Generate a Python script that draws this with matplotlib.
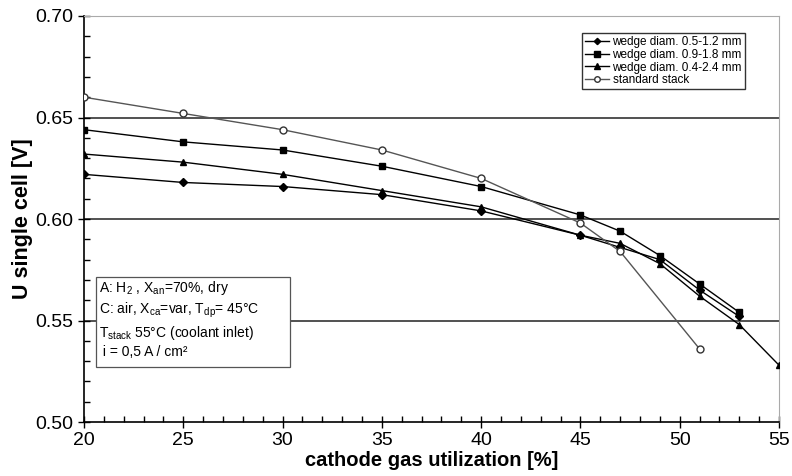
import matplotlib
matplotlib.use("Agg")
import matplotlib.pyplot as plt
from matplotlib.ticker import MultipleLocator
from matplotlib.patches import Rectangle

plt.rcParams['font.family'] = ['Liberation Sans', 'DejaVu Sans']
plt.rcParams['mathtext.default'] = 'regular'

x_diamond = [20, 25, 30, 35, 40, 45, 47, 49, 51, 53]
y_diamond = [0.622, 0.618, 0.616, 0.612, 0.604, 0.592, 0.586, 0.580, 0.565, 0.552]
x_square = [20, 25, 30, 35, 40, 45, 47, 49, 51, 53]
y_square = [0.644, 0.638, 0.634, 0.626, 0.616, 0.602, 0.594, 0.582, 0.568, 0.554]
x_triangle = [20, 25, 30, 35, 40, 45, 47, 49, 51, 53, 55]
y_triangle = [0.632, 0.628, 0.622, 0.614, 0.606, 0.592, 0.588, 0.578, 0.562, 0.548, 0.528]
x_standard = [20, 25, 30, 35, 40, 45, 47, 51]
y_standard = [0.660, 0.652, 0.644, 0.634, 0.620, 0.598, 0.584, 0.536]

labels = ["wedge diam. 0.5-1.2 mm", "wedge diam. 0.9-1.8 mm",
          "wedge diam. 0.4-2.4 mm", "standard stack"]

fig = plt.figure(figsize=(7.92, 4.76), dpi=100)
ax = fig.add_axes([0.106, 0.1134, 0.8776, 0.853])

for yv in [0.55, 0.60, 0.65]:
    ax.axhline(yv, color='#333333', lw=1.2, zorder=1)

ax.plot(x_diamond, y_diamond, '-', color='black', lw=1.0, marker='D', ms=4, label=labels[0], zorder=3)
ax.plot(x_square, y_square, '-', color='black', lw=1.0, marker='s', ms=5, label=labels[1], zorder=3)
ax.plot(x_triangle, y_triangle, '-', color='black', lw=1.0, marker='^', ms=5, label=labels[2], zorder=3)
ax.plot(x_standard, y_standard, '-', color='#555555', lw=1.0, marker='o', ms=5,
        mfc='white', mec='#333333', label=labels[3], zorder=3)

ax.set_xlim(20, 55)
ax.set_ylim(0.50, 0.70)
ax.xaxis.set_major_locator(MultipleLocator(5))
ax.xaxis.set_minor_locator(MultipleLocator(1))
ax.yaxis.set_major_locator(MultipleLocator(0.05))
ax.yaxis.set_minor_locator(MultipleLocator(0.01))
ax.yaxis.set_major_formatter(matplotlib.ticker.FormatStrFormatter('%.2f'))
ax.tick_params(axis='both', which='major', direction='inout', length=8, labelsize=14, width=1)
ax.tick_params(axis='both', which='minor', direction='in', length=4, width=1)

for s in ['top', 'right']:
    ax.spines[s].set_color('#aaaaaa')
for s in ['left', 'bottom']:
    ax.spines[s].set_color('black')
    ax.spines[s].set_linewidth(1.2)

ax.set_xlabel('cathode gas utilization [%]', fontsize=14.5, fontweight='bold', labelpad=1)
ax.set_ylabel('U single cell [V]', fontsize=15.5, fontweight='bold', labelpad=2)

leg = ax.legend(loc='upper right', bbox_to_anchor=(0.951, 0.957), borderaxespad=0,
                fontsize=8.5, frameon=True, fancybox=False, edgecolor='black',
                handlelength=2.0, borderpad=0.25, labelspacing=0.05,
                handletextpad=0.3, markerscale=0.8)
leg.get_frame().set_linewidth(1.0)

ax.add_patch(Rectangle((0.017, 0.135), 0.279, 0.222, transform=ax.transAxes,
                       fc='white', ec='#555555', lw=0.9, zorder=5))
txt = ("A: H$_2$ , X$_{an}$=70%, dry\n"
       "C: air, X$_{ca}$=var, T$_{dp}$= 45°C\n"
       "T$_{stack}$ 55°C (coolant inlet)\n"
       " i = 0,5 A / cm²")
ax.text(0.022, 0.352, txt, transform=ax.transAxes, fontsize=10, va='top', ha='left',
        linespacing=1.3, zorder=6)

fig.savefig('out.png', dpi=100)
